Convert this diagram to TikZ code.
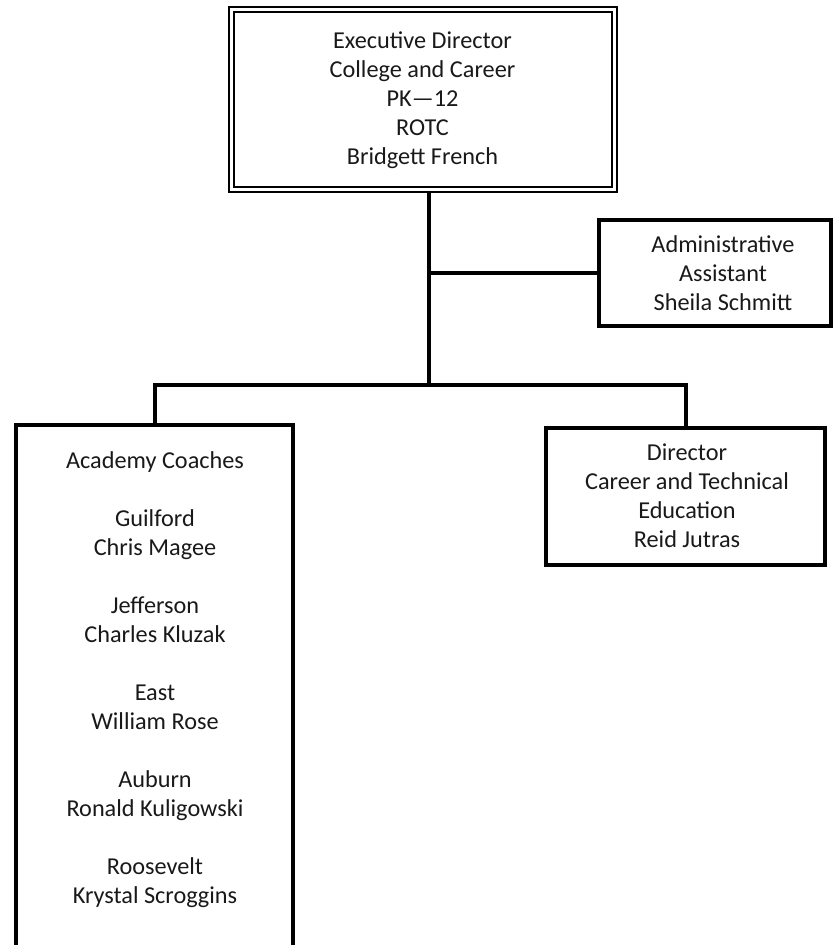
\documentclass[tikz,border=0pt]{standalone}
\usepackage{fontspec}
\setmainfont{Carlito}
\usetikzlibrary{calc}
\begin{document}
\begin{tikzpicture}[x=0.75pt,y=-0.75pt,
  box/.style={draw, line width=3pt, rectangle, inner sep=0pt},
  dbox/.style={draw, line width=1.5pt, double, double distance=2.25pt, rectangle, inner sep=0pt},
  lbl/.style={align=center, font=\fontsize{18.2}{21.75}\selectfont, inner sep=0pt, text=black!90},
  conn/.style={line width=3pt}]
\useasboundingbox (0,0) rectangle (836,945);

% boxes
\node[dbox, minimum width=287.25pt, minimum height=135pt] (top) at (423,99.5) {};
\node[box, minimum width=174pt, minimum height=79.5pt] (admin) at (715,273) {};
\node[rectangle, inner sep=0pt, minimum width=207.75pt, minimum height=390.75pt] (coaches) at (154.5,685.5) {};
\draw[line width=3pt] (coaches.south west) -- (coaches.north west) -- (coaches.north east) -- (coaches.south east);
\node[box, minimum width=209.25pt, minimum height=102.75pt] (director) at (685.5,496.5) {};

% texts
\node[lbl] (toptext) at (422.5,100.5) {Executive Director\\College and Career\\PK—12\\ROTC\\Bridgett French};
\node[lbl] (admintext) at (723,273) {Administrative\\Assistant\\Sheila Schmitt};
\node[lbl] (dirtext) at (687,496) {Director\\Career and Technical\\Education\\Reid Jutras};
\node[lbl] (coachtext) at (155,680) {Academy Coaches\\[21.75pt]Guilford\\Chris Magee\\[21.75pt]Jefferson\\Charles Kluzak\\[21.75pt]East\\William Rose\\[21.75pt]Auburn\\Ronald Kuligowski\\[21.75pt]Roosevelt\\Krystal Scroggins};

% connectors
\coordinate (bus) at (429,385);
\draw[conn] (top.south -| bus) -- (bus);
\draw[conn] (admin.west) -- (admin.west -| bus);
\draw[conn] (coaches.north) |- (bus) -| (director.north);
\end{tikzpicture}
\end{document}
